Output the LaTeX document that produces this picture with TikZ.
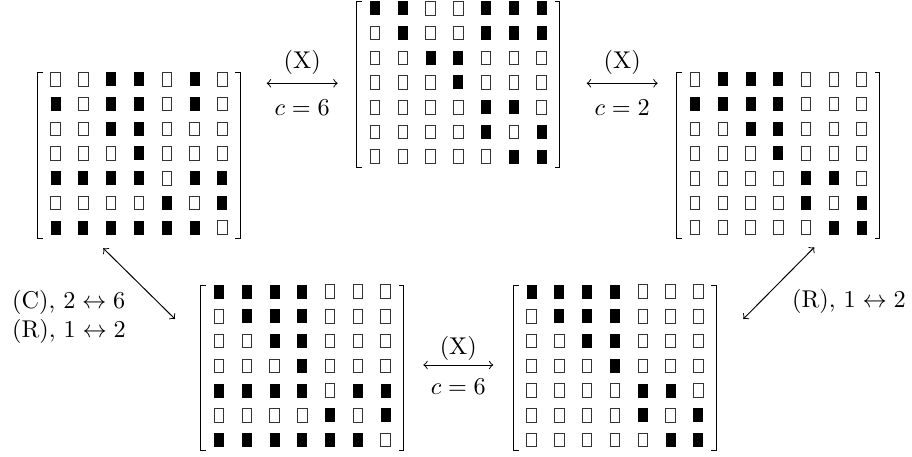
\documentclass[tikz,border=0pt]{standalone}
\usepackage{amsmath}
\tikzset{
  matnode/.style={minimum width=83.66pt, minimum height=68.15pt, inner sep=0pt, outer sep=0pt},
  bracket/.style={line width=0.45pt},
  cellon/.style={fill=black},
  celloff/.style={draw=black!80, line width=0.4pt, fill=white},
  conn/.style={<->, line width=0.4pt},
  lbl/.style={inner sep=0pt}
}
\newcommand\bitmat[4]{%
  \node[matnode] (#1) at (#2,{#3+2}) {};
  \foreach \row [count=\i] in {#4} {
    \foreach \v [count=\j] in \row {
      \ifnum\v=1
        \fill[cellon] ({#2+(\j-4)*27.78-5},{#3+(\i-4)*24.7-7}) rectangle ({#2+(\j-4)*27.78+5},{#3+(\i-4)*24.7+7});
      \else
        \draw[celloff] ({#2+(\j-4)*27.78-4.7},{#3+(\i-4)*24.7-6.8}) rectangle ({#2+(\j-4)*27.78+4.7},{#3+(\i-4)*24.7+6.8});
      \fi
    }
  }
  \draw[bracket] ([xshift=2.06pt]#1.north west) -- (#1.north west) -- (#1.south west) -- ([xshift=2.06pt]#1.south west);
  \draw[bracket] ([xshift=-2.06pt]#1.north east) -- (#1.north east) -- (#1.south east) -- ([xshift=-2.06pt]#1.south east);
}
\begin{document}
\begin{tikzpicture}[x=0.4125pt, y=-0.4125pt]
\useasboundingbox (0,0) rectangle (912,457);

\bitmat{M1}{139}{153.5}{{0,0,1,1,0,1,0},{1,0,1,1,0,1,0},{0,0,1,1,0,0,0},{0,0,0,1,0,0,0},{1,1,1,1,0,1,1},{0,0,0,0,1,0,1},{1,1,1,1,1,1,0}}
\bitmat{M2}{458.3}{82.5}{{1,1,0,0,1,1,1},{0,1,0,0,1,1,1},{0,0,1,1,0,0,0},{0,0,0,1,0,0,0},{0,0,0,0,1,1,0},{0,0,0,0,1,0,1},{0,0,0,0,0,1,1}}
\bitmat{M3}{778.3}{153.5}{{0,1,1,1,0,0,0},{1,1,1,1,0,0,0},{0,0,1,1,0,0,0},{0,0,0,1,0,0,0},{0,0,0,0,1,1,0},{0,0,0,0,1,0,1},{0,0,0,0,0,1,1}}
\bitmat{M4}{302.3}{365.8}{{1,1,1,1,0,0,0},{0,1,1,1,0,0,0},{0,0,1,1,0,0,0},{0,0,0,1,0,0,0},{1,1,1,1,0,1,1},{0,0,0,0,1,0,1},{1,1,1,1,1,1,0}}
\bitmat{M5}{615}{365.8}{{1,1,1,1,0,0,0},{0,1,1,1,0,0,0},{0,0,1,1,0,0,0},{0,0,0,1,0,0,0},{0,0,0,0,1,1,0},{0,0,0,0,1,0,1},{0,0,0,0,0,1,1}}

\draw[conn] ([shift={(26.3,-72.2)}]M1.east) -- ([shift={(-19.2,-1.2)}]M2.west)
  node[midway, yshift=8.46pt] (x1) {(X)}
  node[midway, yshift=-9.86pt] (c1) {$c=6$};
\draw[conn] ([shift={(27,-1.2)}]M2.east) -- ([shift={(-19.2,-72.2)}]M3.west)
  node[midway, yshift=8.46pt] (x2) {(X)}
  node[midway, yshift=-9.86pt] (c2) {$c=2$};
\draw[conn] ([shift={(19.6,-2.8)}]M4.east) -- ([shift={(-20.3,-2.8)}]M5.west)
  node[midway, yshift=7.0pt] (x3) {(X)}
  node[midway, yshift=-8.8pt] (c3) {$c=6$};
\draw[conn] ([shift={(-35.7,10.2)}]M1.south) -- ([shift={(-25.9,-48.8)}]M4.west);
\draw[conn] ([shift={(26.9,-48.8)}]M5.east) -- ([shift={(36,9.2)}]M3.south);

\node[lbl, anchor=west, align=left] (L1) at (11.7,316.7) {(C), $2\leftrightarrow 6$\\(R), $1\leftrightarrow 2$};
\node[lbl, anchor=west] (L2) at (791.7,301.7) {(R), $1\leftrightarrow 2$};
\end{tikzpicture}
\end{document}
